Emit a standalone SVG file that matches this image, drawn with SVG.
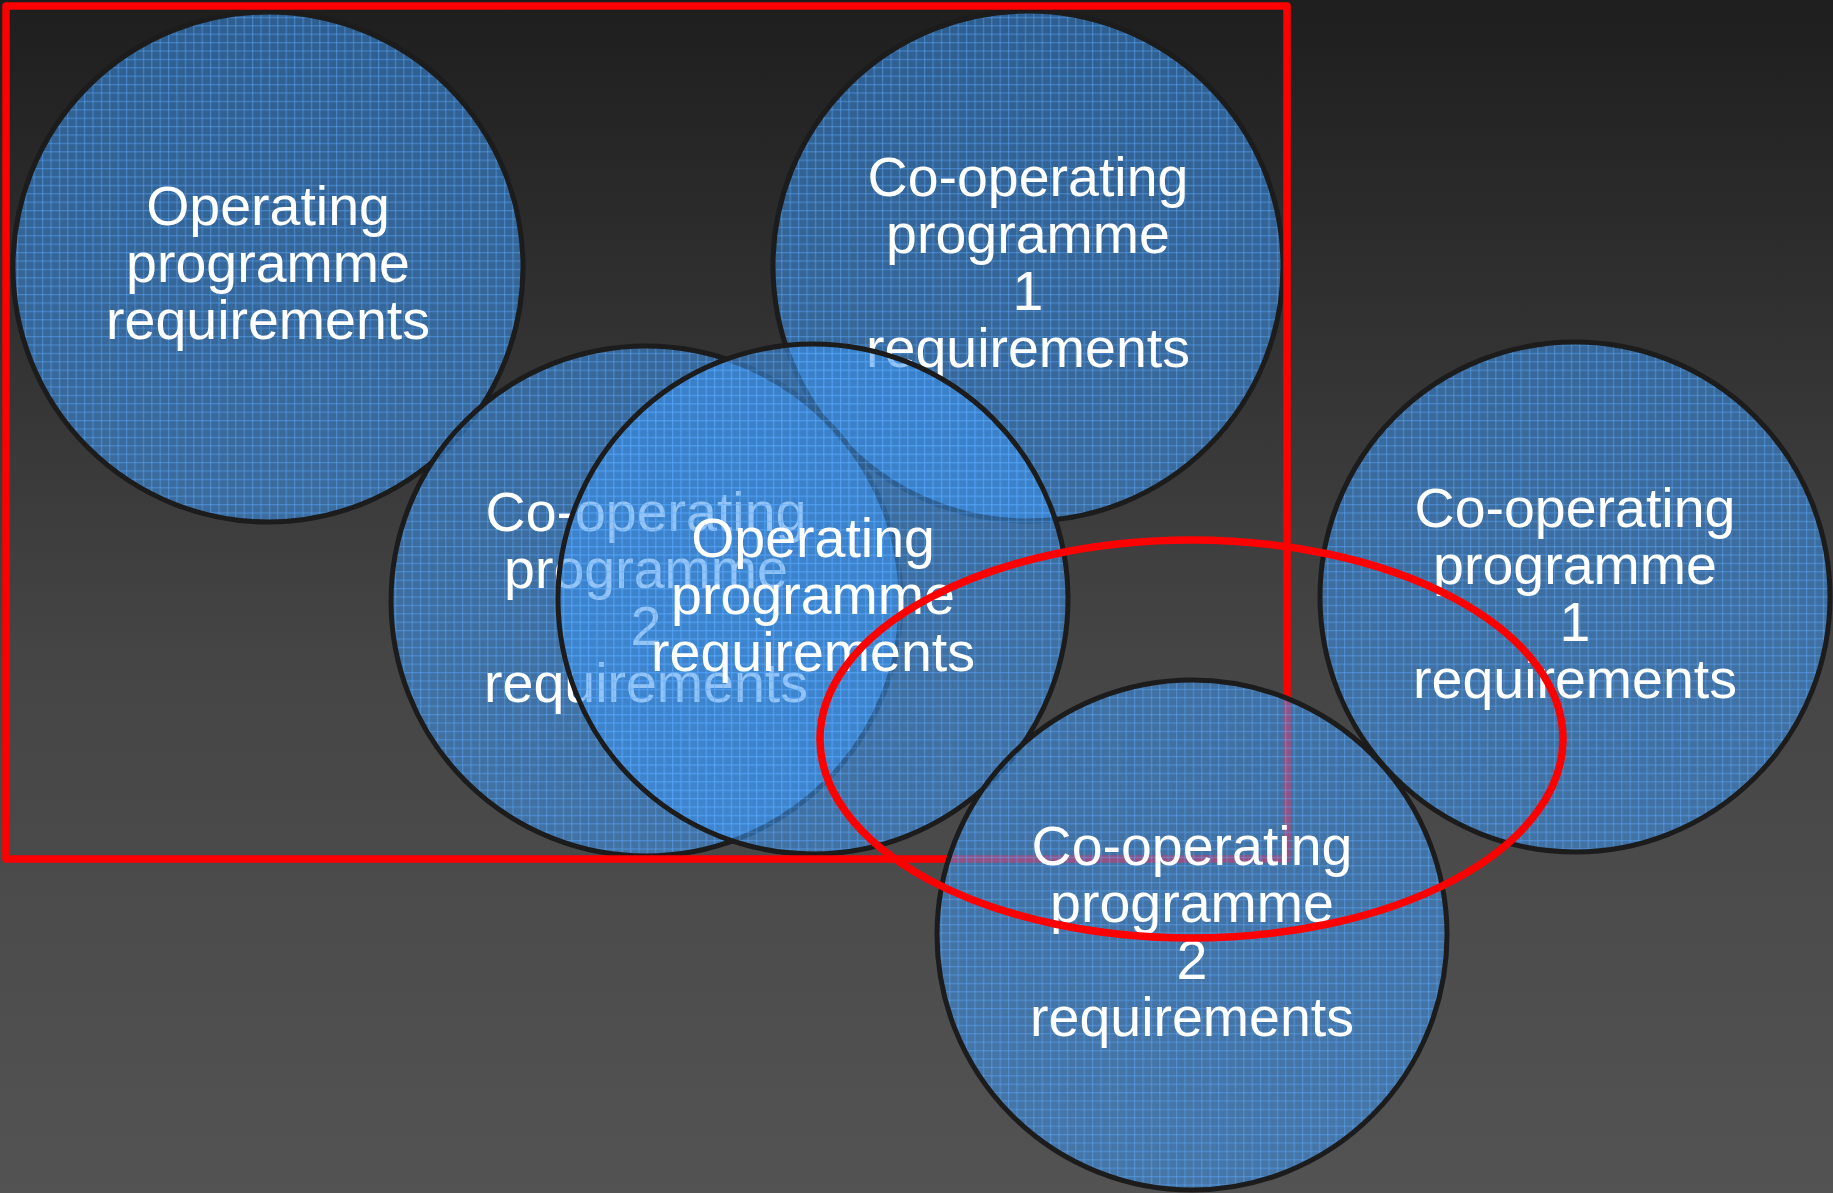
<svg xmlns="http://www.w3.org/2000/svg" width="1833" height="1193" viewBox="0 0 1833 1193">
<defs>
<linearGradient id="bg" x1="0" y1="0" x2="0" y2="1">
<stop offset="0" stop-color="#1e1e1e"/>
<stop offset="0.55" stop-color="#454545"/>
<stop offset="1" stop-color="#535353"/>
</linearGradient>
<pattern id="grid" patternUnits="userSpaceOnUse" width="8.4" height="8.4">
<rect width="8.4" height="8.4" fill="#3c94ee" fill-opacity="0.55"/>
<rect width="8.4" height="1.2" fill="#5aaaff" fill-opacity="0.45"/>
<rect width="1.2" height="8.4" fill="#5aaaff" fill-opacity="0.45"/>
</pattern>
<style>
.node circle { fill:url(#grid); stroke:#1c1c1c; stroke-width:5; }
.node text { font-family:"Liberation Sans", Arial, sans-serif; font-size:55.5px; fill:#ffffff; text-anchor:middle; }
.red { fill:none; stroke:#ff0000; stroke-width:7.5; stroke-linejoin:round; }
</style>
</defs>
<rect x="0" y="0" width="1833" height="1193" fill="url(#bg)"/>

<g id="node-operating-1" class="node">
<circle cx="268" cy="267" r="255"/>
<text x="268" y="225">Operating</text>
<text x="268" y="282">programme</text>
<text x="268" y="339">requirements</text>
</g>

<g id="node-cooperating-1a" class="node">
<circle cx="1028" cy="266" r="255"/>
<text x="1028" y="196">Co-operating</text>
<text x="1028" y="253">programme</text>
<text x="1028" y="310">1</text>
<text x="1028" y="367">requirements</text>
</g>

<g id="node-cooperating-2a" class="node">
<circle cx="646" cy="601" r="255"/>
<text x="646" y="531">Co-operating</text>
<text x="646" y="588">programme</text>
<text x="646" y="645">2</text>
<text x="646" y="702">requirements</text>
</g>

<g id="node-operating-2" class="node">
<circle cx="813" cy="599" r="255"/>
<text x="813" y="557">Operating</text>
<text x="813" y="614">programme</text>
<text x="813" y="671">requirements</text>
</g>

<g id="frame-rect">
<rect class="red" x="6" y="6" width="1281" height="853"/>
</g>

<g id="node-cooperating-1b" class="node">
<circle cx="1575" cy="597" r="255"/>
<text x="1575" y="527">Co-operating</text>
<text x="1575" y="584">programme</text>
<text x="1575" y="641">1</text>
<text x="1575" y="698">requirements</text>
</g>

<g id="node-cooperating-2b" class="node">
<circle cx="1192" cy="935" r="255"/>
<text x="1192" y="865">Co-operating</text>
<text x="1192" y="922">programme</text>
<text x="1192" y="979">2</text>
<text x="1192" y="1036">requirements</text>
</g>

<g id="connectors">
<ellipse class="red" cx="1191.5" cy="739" rx="371.5" ry="199"/>
</g>
</svg>
